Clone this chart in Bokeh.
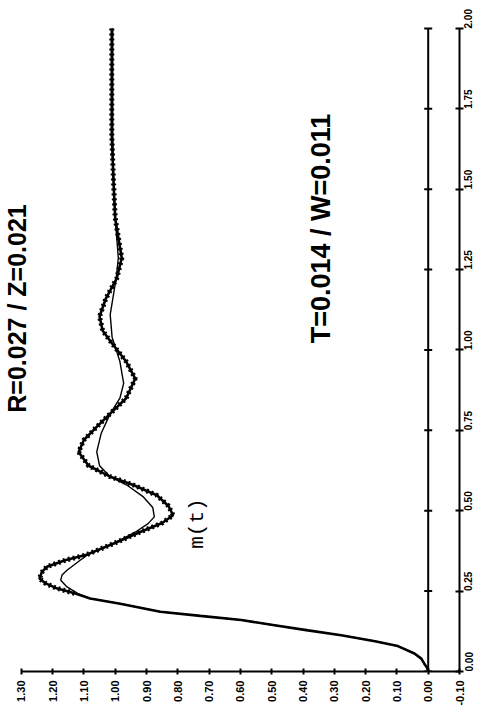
import math

from bokeh.embed import file_html
from bokeh.models import (ColumnDataSource, FixedTicker, Label, LinearAxis,
                          NumeralTickFormatter, Range1d)
from bokeh.plotting import figure
from bokeh.resources import INLINE

# Axis ticks: response value and time
value_ticks = [1.30, 1.20, 1.10, 1.00, 0.90, 0.80, 0.70, 0.60,
               0.50, 0.40, 0.30, 0.20, 0.10, 0.00, -0.10]
time_ticks = [0.00, 0.25, 0.50, 0.75, 1.00, 1.25, 1.50, 1.75, 2.00]

# Sampled response m(t) (heavy, rippled trace)
m_t = [0.000, 0.012, 0.025, 0.040, 0.056, 0.079, 0.094, 0.113, 0.128, 0.144,
       0.160, 0.173, 0.186, 0.211, 0.227, 0.243, 0.260, 0.274, 0.289, 0.308,
       0.326, 0.346, 0.362, 0.398, 0.434, 0.462, 0.486, 0.515, 0.548, 0.580,
       0.606, 0.640, 0.683, 0.720, 0.760, 0.802, 0.850, 0.911, 0.964, 1.020,
       1.060, 1.104, 1.160, 1.223, 1.286, 1.350, 1.410, 1.514, 1.669, 1.825,
       2.000]
m_v = [0.000, 0.004, 0.013, 0.022, 0.044, 0.097, 0.170, 0.278, 0.384, 0.491,
       0.597, 0.728, 0.856, 0.984, 1.080, 1.130, 1.190, 1.222, 1.242, 1.235,
       1.218, 1.160, 1.095, 1.005, 0.920, 0.850, 0.815, 0.830, 0.867, 0.942,
       1.016, 1.085, 1.117, 1.100, 1.060, 1.016, 0.965, 0.936, 0.965, 1.010,
       1.040, 1.050, 1.030, 0.995, 0.979, 0.990, 1.000, 1.005, 1.011, 1.011,
       1.011]

# Continuous reference response (thin smooth trace)
ref_t = [0.000, 0.012, 0.025, 0.040, 0.056, 0.079, 0.094, 0.113, 0.128, 0.144,
         0.160, 0.173, 0.186, 0.211, 0.227, 0.243, 0.263, 0.284, 0.300, 0.315,
         0.346, 0.362, 0.398, 0.434, 0.460, 0.481, 0.510, 0.543, 0.580, 0.606,
         0.640, 0.683, 0.740, 0.802, 0.850, 0.896, 0.964, 1.040, 1.110, 1.223,
         1.286, 1.410, 1.514, 1.669, 1.825, 2.000]
ref_v = [0.000, 0.004, 0.013, 0.022, 0.044, 0.097, 0.170, 0.278, 0.384, 0.491,
         0.597, 0.728, 0.856, 0.984, 1.080, 1.120, 1.154, 1.174, 1.170, 1.154,
         1.112, 1.090, 1.005, 0.935, 0.895, 0.875, 0.880, 0.910, 0.963, 1.016,
         1.050, 1.059, 1.045, 1.016, 0.985, 0.973, 0.985, 1.010, 1.016, 0.997,
         0.990, 1.000, 1.005, 1.008, 1.008, 1.008]

title_text = "R=0.027 / Z=0.021"
param_text = "T=0.014 / W=0.011"
curve_label = "m(t)"

# The page is laid out sideways: value runs right-to-left along the bottom,
# time runs bottom-to-top along the right edge.
p = figure(width=482, height=724, output_backend="svg", toolbar_location=None,
           x_range=Range1d(1.3665, -0.10), y_range=Range1d(0.0, 2.087),
           x_axis_location=None, y_axis_location=None,
           min_border_left=0, min_border_top=0,
           min_border_right=23, min_border_bottom=53)
p.outline_line_color = None
p.xgrid.visible = False
p.ygrid.visible = False
p.background_fill_color = "white"
p.border_fill_color = "white"

label_font = "Liberation Sans"

vaxis = LinearAxis(ticker=FixedTicker(ticks=value_ticks),
                   formatter=NumeralTickFormatter(format="0.00"),
                   bounds=(-0.10, 1.30))
vaxis.axis_line_width = 2
vaxis.major_tick_line_width = 2
vaxis.major_tick_in = 3
vaxis.major_tick_out = 3
vaxis.minor_tick_line_color = None
vaxis.major_label_orientation = math.pi / 2
vaxis.major_label_standoff = 6
vaxis.major_label_text_font = label_font
vaxis.major_label_text_font_style = "bold"
vaxis.major_label_text_font_size = "11px"
vaxis.major_label_text_color = "black"
p.add_layout(vaxis, "below")

taxis = LinearAxis(ticker=FixedTicker(ticks=time_ticks),
                   formatter=NumeralTickFormatter(format="0.00"),
                   bounds=(0.0, 2.0))
taxis.axis_line_width = 2
taxis.major_tick_line_width = 2
taxis.major_tick_in = 4
taxis.major_tick_out = 4
taxis.minor_tick_line_color = None
taxis.major_label_orientation = math.pi / 2
taxis.major_label_standoff = 5
taxis.major_label_text_font = label_font
taxis.major_label_text_font_style = "bold"
taxis.major_label_text_font_size = "10px"
taxis.major_label_text_color = "black"
p.add_layout(taxis, "right")

# Zero line with its own time ticks
p.segment(x0=[0.0], y0=[time_ticks[0]], x1=[0.0], y1=[time_ticks[-1]],
          line_color="black", line_width=2)
p.scatter(x=[0.0] * len(time_ticks), y=time_ticks, marker="dash", size=8,
          line_color="black", line_width=2)

# Smooth reference response
ref_src = ColumnDataSource(data=dict(t=ref_t, v=ref_v))
p.line(x="v", y="t", source=ref_src, line_color="black", line_width=1.4)

# Sampled response: solid core plus a notched overlay for the sampling ripple
m_src = ColumnDataSource(data=dict(t=m_t, v=m_v))
p.line(x="v", y="t", source=m_src, line_color="black", line_width=2.6)
start = next(i for i, t in enumerate(m_t) if t >= 0.24)
ripple_src = ColumnDataSource(data=dict(t=m_t[start:], v=m_v[start:]))
p.line(x="v", y="t", source=ripple_src, line_color="black", line_width=5,
       line_dash="2 3", line_cap="butt")

# Annotations
p.add_layout(Label(x=1.3665, y=1.129, x_offset=16, text=title_text,
                   angle=math.pi / 2,
                   text_align="center", text_baseline="middle",
                   text_font=label_font, text_font_style="bold",
                   text_font_size="25px", text_color="black"))
p.add_layout(Label(x=0.341, y=1.378, text=param_text, angle=math.pi / 2,
                   text_align="center", text_baseline="middle",
                   text_font=label_font, text_font_style="bold",
                   text_font_size="27px", text_color="black"))
p.add_layout(Label(x=0.737, y=0.460, text=curve_label, angle=math.pi / 2,
                   text_align="center", text_baseline="middle",
                   text_font="Liberation Mono",
                   text_font_size="21px", text_color="black"))

open("out.html", "w").write(file_html(p, INLINE))
